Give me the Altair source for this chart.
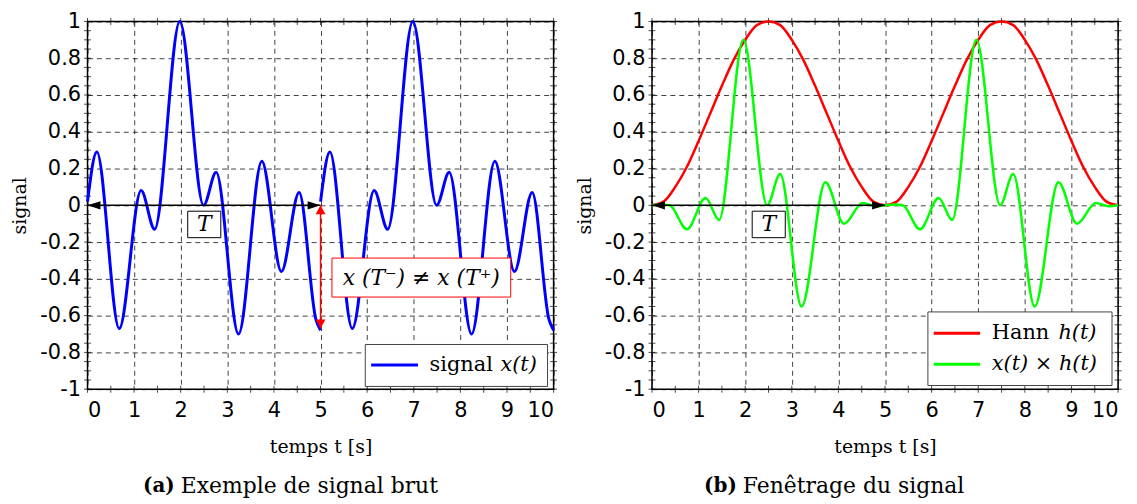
import altair as alt
import pandas as pd
import numpy as np

# ---------------- values ----------------
# panel (a): raw signal x(t), first period [0, 5] (extrema), second period [5, 10]
sig_t1 = [0.00, 0.20, 0.68, 1.15, 1.44, 1.98, 2.49, 2.76, 3.24, 3.74, 4.16, 4.54, 4.90, 5.00]
sig_v1 = [0.02, 0.29, -0.67, 0.08, -0.13, 1.00, 0.00, 0.18, -0.70, 0.24, -0.36, 0.07, -0.62, -0.68]
sig_t2 = [5.00, 5.20, 5.68, 6.15, 6.44, 6.98, 7.49, 7.76, 8.24, 8.74, 9.16, 9.54, 9.90, 10.00]
sig_v2 = [0.02, 0.29, -0.67, 0.08, -0.13, 1.00, 0.00, 0.18, -0.70, 0.24, -0.36, 0.07, -0.62, -0.68]

# panel (b): Hann window h(t)
hann_t = [0, 0.25, 0.5, 0.75, 1, 1.25, 1.5, 1.75, 2, 2.25, 2.5, 2.75, 3, 3.25, 3.5, 3.75, 4, 4.25, 4.5, 4.75,
          5, 5.25, 5.5, 5.75, 6, 6.25, 6.5, 6.75, 7, 7.25, 7.5, 7.75, 8, 8.25, 8.5, 8.75, 9, 9.25, 9.5, 9.75, 10]
hann_v = [0, 0.02, 0.10, 0.21, 0.35, 0.50, 0.65, 0.79, 0.90, 0.98, 1.00, 0.98, 0.90, 0.79, 0.65, 0.50, 0.35, 0.21, 0.10, 0.02,
          0, 0.02, 0.10, 0.21, 0.35, 0.50, 0.65, 0.79, 0.90, 0.98, 1.00, 0.98, 0.90, 0.79, 0.65, 0.50, 0.35, 0.21, 0.10, 0.02, 0]

# panel (b): windowed signal x(t) * h(t)
win_t = [0.00, 0.20, 0.38, 0.75, 1.15, 1.44, 1.96, 2.47, 2.75, 3.21, 3.72, 4.12, 4.52, 4.80,
         5.00, 5.20, 5.38, 5.75, 6.15, 6.44, 6.96, 7.47, 7.75, 8.21, 8.72, 9.12, 9.52, 9.80, 10.00]
win_v = [0.00, 0.005, 0.00, -0.13, 0.04, -0.08, 0.90, 0.00, 0.17, -0.55, 0.125, -0.10, 0.012, -0.005,
         0.00, 0.005, 0.00, -0.13, 0.04, -0.08, 0.90, 0.00, 0.17, -0.55, 0.125, -0.10, 0.012, -0.005, 0.00]

x_tick_labels = [0, 1, 2, 3, 4, 5, 6, 7, 8, 9, 10]
y_tick_labels = [-1, -0.8, -0.6, -0.4, -0.2, 0, 0.2, 0.4, 0.6, 0.8, 1]

# ---------------- styling ----------------
SERIF = "DejaVu Serif"
SANS = "DejaVu Sans"
W, H = 469, 370

xs = alt.Scale(domain=[0, 10], nice=False, zero=False)
ys = alt.Scale(domain=[-1, 1], nice=False, zero=False)


def X(field="t"):
    return alt.X(f"{field}:Q", scale=xs,
                 axis=alt.Axis(values=x_tick_labels, title="temps t [s]", labelExpr="'' + datum.value"))


def Y(field="v"):
    return alt.Y(f"{field}:Q", scale=ys,
                 axis=alt.Axis(values=y_tick_labels, title="signal", labelExpr="'' + datum.value"))


# minor / major ticks on the four sides of the frame (crossing the frame)
ytick_pos = [round(-1 + 0.05 * i, 2) for i in range(41)]
xtick_pos = [round(0.5 * i, 1) for i in range(21)]
ytk = pd.DataFrame({"v": ytick_pos * 2, "t": [0] * 41 + [10] * 41})
xtk = pd.DataFrame({"t": xtick_pos * 2, "v": [-1] * 21 + [1] * 21})


def frame_ticks():
    a = alt.Chart(ytk).mark_tick(orient="horizontal", size=7, thickness=1, color="black").encode(x=X(), y=Y())
    b = alt.Chart(xtk).mark_tick(orient="vertical", size=7, thickness=1, color="black").encode(x=X(), y=Y())
    return a + b


def period_arrow(label_box):
    line = pd.DataFrame({"t": [0], "t2": [5], "v": [0]})
    rule = alt.Chart(line).mark_rule(color="black", strokeWidth=1.5).encode(x=X(), x2="t2:Q", y=Y())
    heads = pd.DataFrame({"t": [0, 5], "v": [0, 0],
                          "shape": ["M0,0 L1,-0.32 L1,0.32 Z", "M0,0 L-1,-0.32 L-1,0.32 Z"]})
    hd = alt.Chart(heads).mark_point(filled=True, size=676, color="black", opacity=1, strokeWidth=0).encode(
        x=X(), y=Y(), shape=alt.Shape("shape:N", scale=None))
    box = pd.DataFrame({"t": [label_box[0]], "t2": [label_box[1]], "v": [label_box[2]], "v2": [label_box[3]]})
    bx = alt.Chart(box).mark_rect(fill="white", stroke="black", strokeWidth=1).encode(
        x=X(), x2="t2:Q", y=Y(), y2="v2:Q")
    txt = pd.DataFrame({"t": [(label_box[0] + label_box[1]) / 2], "v": [(label_box[2] + label_box[3]) / 2],
                        "label": ["T"]})
    tx = alt.Chart(txt).mark_text(font=SERIF, fontSize=22, fontStyle="italic", color="black",
                                  baseline="middle", align="center").encode(x=X(), y=Y(), text="label:N")
    return rule + hd + bx + tx


def caption(t_bold, t_rest, bold, rest):
    d1 = pd.DataFrame({"t": [t_bold], "v": [-1.525], "label": [bold]})
    d2 = pd.DataFrame({"t": [t_rest], "v": [-1.525], "label": [rest]})
    c1 = alt.Chart(d1).mark_text(font=SERIF, fontSize=20, fontWeight="bold", align="right", baseline="middle",
                                 color="black").encode(x=X(), y=Y(), text="label:N")
    c2 = alt.Chart(d2).mark_text(font=SERIF, fontSize=22, align="left", baseline="middle",
                                 color="black").encode(x=X(), y=Y(), text="label:N")
    return c1 + c2


def legend(box, rows):
    bdf = pd.DataFrame({"t": [box[0]], "t2": [box[1]], "v": [box[2]], "v2": [box[3]]})
    b = alt.Chart(bdf).mark_rect(fill="white", stroke="#444444", strokeWidth=1).encode(
        x=X(), x2="t2:Q", y=Y(), y2="v2:Q")
    layers = [b]
    for (t1, t2, v, color, tt, label, style) in rows:
        ldf = pd.DataFrame({"t": [t1], "t2": [t2], "v": [v]})
        layers.append(alt.Chart(ldf).mark_rule(color=color, strokeWidth=3).encode(x=X(), x2="t2:Q", y=Y()))
        for (tpos, lab, st) in zip(tt, label, style):
            tdf = pd.DataFrame({"t": [tpos], "v": [v], "label": [lab]})
            layers.append(alt.Chart(tdf).mark_text(font=SERIF, fontSize=21, fontStyle=st, align="left",
                                                   baseline="middle", color="black").encode(
                x=X(), y=Y(), text="label:N"))
    return alt.layer(*layers)


# ---------------- panel (a) ----------------
sig = pd.DataFrame({"t": sig_t1 + sig_t2, "v": sig_v1 + sig_v2,
                    "seg": ["a"] * len(sig_t1) + ["b"] * len(sig_t2)})
sig_line = alt.Chart(sig).mark_line(color="#0000ff", strokeWidth=3, interpolate="monotone").encode(
    x=X(), y=Y(), detail="seg:N")

red = pd.DataFrame({"t": [5], "v": [0], "v2": [-0.67]})
red_rule = alt.Chart(red).mark_rule(color="#ff0000", strokeWidth=1.5).encode(x=X(), y=Y(), y2="v2:Q")
red_heads = pd.DataFrame({"t": [5, 5], "v": [0, -0.67],
                          "shape": ["M0,0 L-0.55,1 L0.55,1 Z", "M0,0 L-0.55,-1 L0.55,-1 Z"]})
red_hd = alt.Chart(red_heads).mark_point(filled=True, size=324, color="#ff0000", opacity=1, strokeWidth=0).encode(
    x=X(), y=Y(), shape=alt.Shape("shape:N", scale=None))
rbox = pd.DataFrame({"t": [5.245], "t2": [9.08], "v": [-0.287], "v2": [-0.499]})
rbx = alt.Chart(rbox).mark_rect(fill="white", stroke="#ff0000", strokeWidth=1).encode(
    x=X(), x2="t2:Q", y=Y(), y2="v2:Q")
rtxt = pd.DataFrame({"t": [7.16], "v": [-0.393], "label": ["x (T\u207b) \u2260 x (T\u207a)"]})
rtx = alt.Chart(rtxt).mark_text(font=SERIF, fontSize=22, fontStyle="italic", color="black",
                                align="center", baseline="middle").encode(x=X(), y=Y(), text="label:N")

left = alt.layer(
    frame_ticks(),
    sig_line,
    period_arrow((2.15, 2.86, -0.032, -0.176)),
    red_rule, red_hd, rbx, rtx,
    legend((5.96, 9.87, -0.757, -0.985),
           [(6.085, 7.09, -0.869, "#0000ff", [7.34, 8.86], ["signal", "x(t)"], ["normal", "italic"])]),
    caption(1.87, 2.0, "(a)", "Exemple de signal brut"),
).properties(width=W, height=H)

# ---------------- panel (b) ----------------
hann = pd.DataFrame({"t": hann_t, "v": hann_v})
hann_line = alt.Chart(hann).mark_line(color="#ff0000", strokeWidth=2.5, interpolate="monotone").encode(x=X(), y=Y())
win = pd.DataFrame({"t": win_t, "v": win_v})
win_line = alt.Chart(win).mark_line(color="#00ff00", strokeWidth=2.5, interpolate="monotone").encode(x=X(), y=Y())

right = alt.layer(
    frame_ticks(),
    hann_line,
    win_line,
    period_arrow((2.15, 2.86, -0.032, -0.176)),
    legend((5.92, 9.87, -0.58, -0.98),
           [(6.045, 7.04, -0.696, "#ff0000", [7.29, 8.72], ["Hann", "h(t)"], ["normal", "italic"]),
            (6.045, 7.04, -0.865, "#00ff00", [7.29], ["x(t) \u00d7 h(t)"], ["italic"])]),
    caption(1.82, 1.95, "(b)", "Fen\u00eatrage du signal"),
).properties(width=W, height=H)

chart = alt.hconcat(left, right, spacing=99, bounds="flush").properties(
    padding={"left": 2, "top": 0, "right": 5, "bottom": 5}
).configure_view(
    stroke="black", strokeWidth=1.5
).configure_axis(
    grid=True, gridColor="black", gridDash=[5, 4], gridOpacity=0.75, gridWidth=1,
    domain=False, ticks=False,
    labelFont=SANS, labelFontSize=21, labelColor="black",
    titleFont=SERIF, titleFontSize=19, titleFontWeight="normal", titleColor="black",
).configure_axisY(titlePadding=10, labelPadding=7).configure_axisX(titlePadding=17, labelPadding=11)

chart.save("out.html", embed_options={"renderer": "svg", "actions": False})
